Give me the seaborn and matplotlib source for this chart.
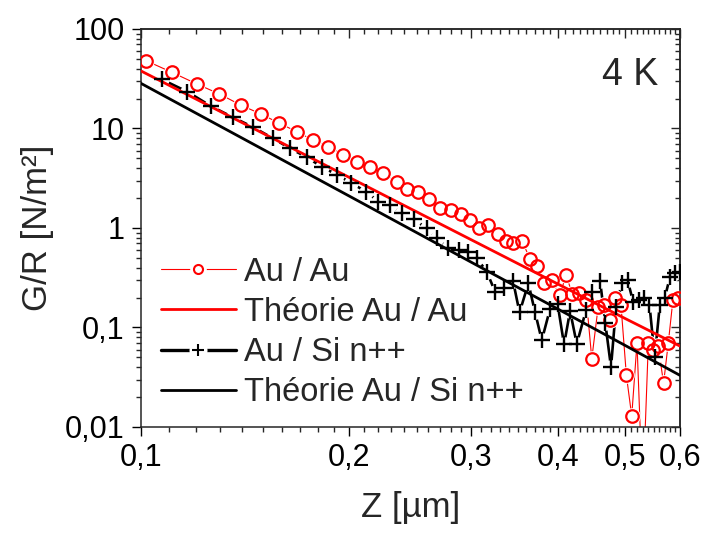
import numpy as np
import pandas as pd
import matplotlib
matplotlib.use("Agg")
import matplotlib.pyplot as plt
from matplotlib.lines import Line2D
import seaborn as sns
from matplotlib.ticker import FixedLocator, FixedFormatter, NullFormatter, LogLocator

# ---------------- data ----------------
au_au_z = [0.1018, 0.1109, 0.1205, 0.1299, 0.1394, 0.1490, 0.1585, 0.1679, 0.1771,
           0.1865, 0.1961, 0.2054, 0.2142, 0.2235, 0.2341, 0.2425, 0.2515, 0.2609,
           0.2703, 0.2801, 0.2896, 0.2987, 0.3081, 0.3174, 0.3275, 0.3363, 0.3449,
           0.3547, 0.3646, 0.3735, 0.3817, 0.3918, 0.4022, 0.4109, 0.4195, 0.4288,
           0.4396, 0.4475, 0.457, 0.466, 0.475, 0.484, 0.493, 0.502, 0.511,
           0.520, 0.530, 0.540, 0.549, 0.558, 0.568, 0.577, 0.586, 0.595]
au_au_g = [48.0, 36.7, 28.0, 22.2, 17.2, 14.0, 11.3, 9.29, 7.66,
           6.56, 5.42, 4.64, 4.07, 3.55, 2.92, 2.45, 2.32, 1.94,
           1.58, 1.52, 1.38, 1.20, 0.99, 1.07, 0.88, 0.745, 0.70,
           0.745, 0.488, 0.415, 0.283, 0.302, 0.210, 0.335, 0.217, 0.222,
           0.188, 0.0484, 0.16, 0.17, 0.12, 0.20, 0.17, 0.033, 0.0129,
           0.07, 0.002, 0.07, 0.06, 0.065, 0.0275, 0.07, 0.19, 0.20]

au_si_z = [0.1072, 0.1168, 0.1262, 0.1358, 0.1454, 0.1551, 0.1642, 0.1736, 0.1824,
           0.1922, 0.2009, 0.2114, 0.2202, 0.2289, 0.2380, 0.2475, 0.2586, 0.2674,
           0.2779, 0.2883, 0.2970, 0.3054, 0.3157, 0.3245, 0.3344, 0.3445, 0.3520,
           0.3625, 0.3707, 0.3790, 0.3895, 0.3994, 0.4081, 0.4164, 0.4257, 0.4391,
           0.4479, 0.4600, 0.4680, 0.4770, 0.485, 0.4945, 0.504, 0.5135, 0.523,
           0.5325, 0.542, 0.5515, 0.561, 0.5705, 0.580, 0.5895, 0.599]
au_si_g = [31.2, 23.4, 16.8, 12.96, 10.28, 7.97, 6.32, 5.14, 4.13,
           3.41, 2.85, 2.32, 1.84, 1.70, 1.405, 1.23, 0.993, 0.788,
           0.625, 0.601, 0.578, 0.496, 0.364, 0.229, 0.249, 0.293, 0.1415,
           0.278, 0.1415, 0.0744, 0.1535, 0.1735, 0.0675, 0.1465, 0.0683, 0.150,
           0.2248, 0.2934, 0.111, 0.040, 0.16, 0.28, 0.30, 0.18, 0.19,
           0.20, 0.17, 0.05, 0.17, 0.20, 0.32, 0.35, 0.36]

theory_z = [0.1, 0.2, 0.3, 0.4, 0.5, 0.6]
theory_au_au = [38.0, 3.22, 0.76, 0.273, 0.123, 0.065]
theory_au_si = [28.5, 2.09, 0.452, 0.153, 0.066, 0.033]

labels = ["Au / Au", "Théorie Au / Au", "Au / Si n++", "Théorie Au / Si n++"]
x_ticks = [0.1, 0.2, 0.3, 0.4, 0.5, 0.6]
x_tick_labels = ["0,1", "0,2", "0,3", "0,4", "0,5", "0,6"]
y_ticks = [0.01, 0.1, 1, 10, 100]
y_tick_labels = ["0,01", "0,1", "1", "10", "100"]

# ---------------- style ----------------
sns.set_style("ticks")
plt.rcParams["font.family"] = ["Liberation Sans", "DejaVu Sans"]
plt.rcParams["axes.linewidth"] = 1.1

fig = plt.figure(figsize=(7.04, 5.33), dpi=100)
ax = fig.add_axes([0.1999, 0.1989, 0.7661, 0.7467])

RED = "#ff0000"
common = dict(ax=ax, estimator=None, errorbar=None, sort=False, legend=False)

# connecting lines of the measured data
sns.lineplot(x=au_au_z, y=au_au_g, color=RED, lw=0.8, zorder=2, **common)
sns.lineplot(x=au_si_z, y=au_si_g, color="black", lw=1.9, zorder=2, **common)

# white gaps around the markers (line interrupted at each point)
sns.lineplot(x=au_au_z, y=au_au_g, color="white", linestyle="", marker="o",
             markersize=12, markerfacecolor="white", markeredgecolor="white",
             markeredgewidth=0, zorder=2.5, **common)
sns.lineplot(x=au_si_z, y=au_si_g, color="white", linestyle="", marker="o",
             markersize=10.5, markerfacecolor="white", markeredgecolor="white",
             markeredgewidth=0, zorder=2.5, **common)

# markers
sns.lineplot(x=au_au_z, y=au_au_g, color=RED, linestyle="", marker="o",
             markersize=9, markerfacecolor="none", markeredgecolor=RED,
             markeredgewidth=1.6, zorder=2.6, **common)

# theory
sns.lineplot(x=theory_z, y=theory_au_au, color=RED, lw=2.0, zorder=3, **common)
sns.lineplot(x=theory_z, y=theory_au_si, color="black", lw=2.0, zorder=3, **common)

sns.lineplot(x=au_si_z, y=au_si_g, color="black", linestyle="", marker="+",
             markersize=11, markeredgecolor="black", markeredgewidth=1.7,
             zorder=4, **common)

ax.set_xscale("log")
ax.set_yscale("log")
ax.set_xlim(0.1, 0.6)
ax.set_ylim(0.01, 100)

x_minor = [v / 100 for v in range(11, 60) if v % 10 != 0]
ax.xaxis.set_major_locator(FixedLocator(x_ticks))
ax.xaxis.set_major_formatter(FixedFormatter(x_tick_labels))
ax.xaxis.set_minor_locator(FixedLocator(x_minor))
ax.xaxis.set_minor_formatter(NullFormatter())
ax.yaxis.set_major_locator(FixedLocator(y_ticks))
ax.yaxis.set_major_formatter(FixedFormatter(y_tick_labels))
ax.yaxis.set_minor_locator(LogLocator(base=10, subs=range(2, 10), numticks=20))
ax.yaxis.set_minor_formatter(NullFormatter())

ax.tick_params(which="major", direction="out", length=6.5, width=1.0,
               labelsize=22, pad=5, colors="black")
ax.tick_params(which="minor", direction="out", length=3.6, width=1.0)

# mirrored inward ticks on top/right
secx = ax.secondary_xaxis("top")
secx.xaxis.set_major_locator(FixedLocator(x_ticks))
secx.xaxis.set_minor_locator(FixedLocator(x_minor))
secx.xaxis.set_major_formatter(NullFormatter())
secx.xaxis.set_minor_formatter(NullFormatter())
secx.tick_params(which="major", direction="in", length=6.5, width=1.0)
secx.tick_params(which="minor", direction="in", length=3.6, width=1.0)
secy = ax.secondary_yaxis("right")
secy.yaxis.set_major_locator(FixedLocator(y_ticks))
secy.yaxis.set_minor_locator(LogLocator(base=10, subs=range(2, 10), numticks=20))
secy.yaxis.set_major_formatter(NullFormatter())
secy.yaxis.set_minor_formatter(NullFormatter())
secy.tick_params(which="major", direction="in", length=6.5, width=1.0)
secy.tick_params(which="minor", direction="in", length=3.6, width=1.0)

ax.set_xlabel("Z [µm]", fontsize=25, labelpad=13)
ax.set_ylabel("G/R [N/m²]", fontsize=25, labelpad=8)

ax.text(0.959, 0.859, "4 K", transform=ax.transAxes, ha="right", va="baseline",
        fontsize=27)

# legend keys: line interrupted around a small marker, like the reference
key_r = (Line2D([], [], color=RED, lw=0.8),
         Line2D([], [], ls="", marker="o", ms=12, mfc="white", mec="white", mew=0),
         Line2D([], [], ls="", marker="o", ms=6.5, mfc="none", mec=RED, mew=1.5))
key_tr = Line2D([], [], color=RED, lw=2.0)
key_b = (Line2D([], [], color="black", lw=2.4),
         Line2D([], [], ls="", marker="o", ms=13, mfc="white", mec="white", mew=0),
         Line2D([], [], ls="", marker="+", ms=8.5, mec="black", mew=1.5))
key_tb = Line2D([], [], color="black", lw=2.0)

ax.legend([key_r, key_tr, key_b, key_tb], labels,
          loc="upper left", bbox_to_anchor=(0.037, 0.428), borderaxespad=0,
          borderpad=0, frameon=False, fontsize=23.5, handlelength=2.3,
          handletextpad=0.25, labelspacing=0.28, markerscale=1.0)

fig.savefig("out.png", dpi=100)
